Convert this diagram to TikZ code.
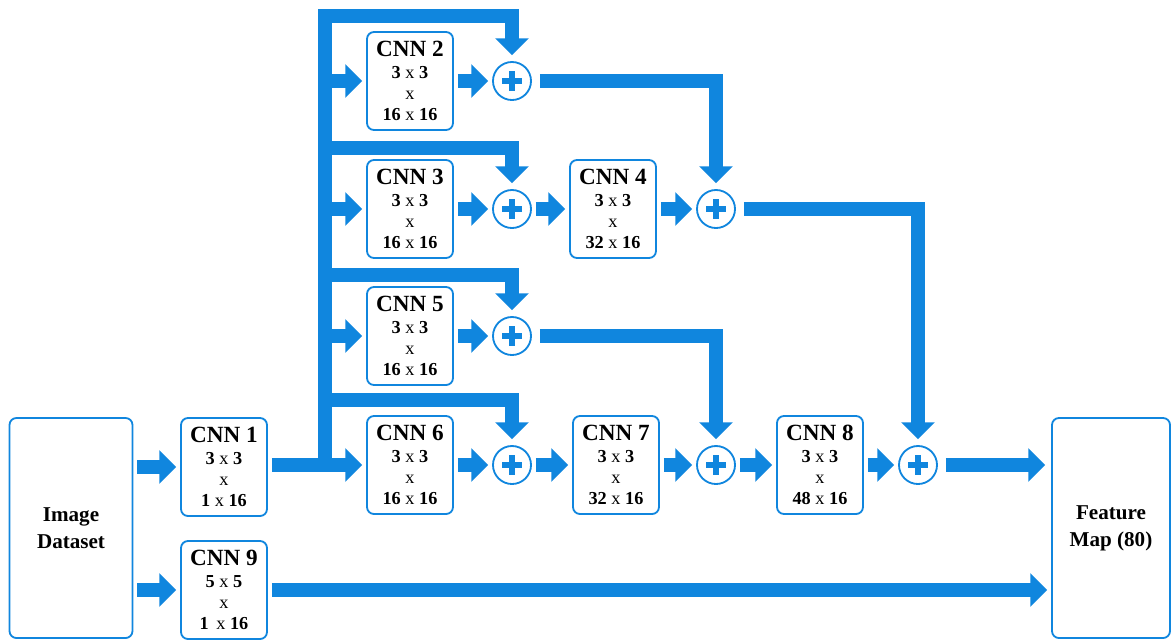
\documentclass[tikz,border=0pt]{standalone}
\usepackage{fontspec}
\setmainfont{Liberation Serif}
\usepackage{xcolor}
\usetikzlibrary{arrows.meta, positioning}

\definecolor{netblue}{RGB}{16,134,222}

% text of one conv block
\newcommand{\cnntext}[5]{{\fontsize{16.5}{15}\selectfont\bfseries CNN #1}\\[0.5pt]
  \textbf{#2} x \textbf{#3}\\ x\\ \textbf{#4} x \textbf{#5}}

\begin{document}
\begin{tikzpicture}[
  x=0.025cm, y=-0.025cm,
  % Node styles
  layer/.style={draw=netblue, line width=1.3pt, rounded corners=5pt,
                minimum width=2.15cm, minimum height=2.45cm, inner sep=0pt,
                align=center, font=\fontsize{13}{15}\selectfont},
  io/.style={layer, minimum height=5.5cm, font=\fontsize{15}{19}\selectfont\bfseries},
  add/.style={circle, draw=netblue, line width=1.3pt, minimum size=0.95cm, inner sep=0pt,
              path picture={
                \draw[netblue, line width=4.8pt]
                  ([xshift=-0.24cm]path picture bounding box.center) -- ([xshift=0.24cm]path picture bounding box.center)
                  ([yshift=-0.24cm]path picture bounding box.center) -- ([yshift=0.24cm]path picture bounding box.center);}},
  % Arrow styles
  flow/.style={draw=netblue, line width=0.36cm, line join=miter,
               -{Triangle[length=0.42cm, width=0.82cm]}},
  gap/.style={shorten <=0.1cm, shorten >=0.1cm},
]
  \useasboundingbox (0,0) rectangle (1172,641);

  % -- input / output --
  \node[io, minimum width=3.075cm] (img) at (71,528) {Image\\Dataset};
  \node[io, minimum width=2.95cm] (fmap) at (1111,528) {Feature\\Map (80)};

  % -- first column --
  \node[layer] (cnn1) at (224,467) {\cnntext{1}{3}{3}{1}{16}};
  \node[layer] (cnn9) at (224,590) {\cnntext{9}{5}{5}{1\,}{16}};

  % -- branch column --
  \node[layer] (cnn2) at (410,81)  {\cnntext{2}{3}{3}{16}{16}};
  \node[layer] (cnn3) at (410,209) {\cnntext{3}{3}{3}{16}{16}};
  \node[layer] (cnn5) at (410,336) {\cnntext{5}{3}{3}{16}{16}};
  \node[layer] (cnn6) at (410,465) {\cnntext{6}{3}{3}{16}{16}};

  \node[add] (p2) at (512,81)  {};
  \node[add] (p3) at (512,209) {};
  \node[add] (p5) at (512,336) {};
  \node[add] (p6) at (512,465) {};

  % -- later blocks --
  \node[layer] (cnn4) at (613,209) {\cnntext{4}{3}{3}{32}{16}};
  \node[layer] (cnn7) at (616,465) {\cnntext{7}{3}{3}{32}{16}};
  \node[layer] (cnn8) at (820,465) {\cnntext{8}{3}{3}{48}{16}};

  \node[add] (p4) at (716,209) {};
  \node[add] (p7) at (716,465) {};
  \node[add] (p8) at (918,465) {};

  % -- trunk points --
  \coordinate (trunk) at (325,465);
  \coordinate (top)   at (325,16);
  \coordinate (b3)    at (325,148);
  \coordinate (b5)    at (325,275);
  \coordinate (b6)    at (325,400);

  % -- inputs --
  \draw[flow, gap] (img.east |- cnn1) -- (cnn1.west);
  \draw[flow, gap] (img.east |- cnn9) -- (cnn9.west);

  % -- trunk and skips --
  \draw[flow, gap] (cnn1.east |- cnn6) -- (cnn6.west);
  \draw[flow, shorten >=0.15cm] (trunk) -- (top) -| (p2.north);
  \draw[flow, shorten >=0.15cm] (b3) -| (p3.north);
  \draw[flow, shorten >=0.15cm] (b5) -| (p5.north);
  \draw[flow, shorten >=0.15cm] (b6) -| (p6.north);
  \draw[flow, shorten >=0.1cm] (trunk |- cnn2) -- (cnn2.west);
  \draw[flow, shorten >=0.1cm] (trunk |- cnn3) -- (cnn3.west);
  \draw[flow, shorten >=0.1cm] (trunk |- cnn5) -- (cnn5.west);

  % -- blocks into adders --
  \draw[flow, gap] (cnn2) -- (p2);
  \draw[flow, gap] (cnn3) -- (p3);
  \draw[flow, gap] (cnn5) -- (p5);
  \draw[flow, gap] (cnn6) -- (p6);
  \draw[flow, gap] (p3) -- (cnn4);
  \draw[flow, gap] (cnn4) -- (p4);
  \draw[flow, gap] (p6) -- (cnn7);
  \draw[flow, gap] (cnn7) -- (p7);
  \draw[flow, gap] (p7) -- (cnn8);
  \draw[flow, gap] (cnn8) -- (p8);

  % -- adders down the line --
  \draw[flow, shorten <=0.2cm, shorten >=0.15cm] (p2.east) -| (p4.north);
  \draw[flow, shorten <=0.2cm, shorten >=0.15cm] (p5.east) -| (p7.north);
  \draw[flow, shorten <=0.2cm, shorten >=0.15cm] (p4.east) -| (p8.north);

  % -- outputs --
  \draw[flow, shorten <=0.2cm, shorten >=0.15cm] (p8.east) -- (fmap.west |- p8);
  \draw[flow, gap] (cnn9.east) -- (fmap.west |- cnn9);
\end{tikzpicture}
\end{document}
